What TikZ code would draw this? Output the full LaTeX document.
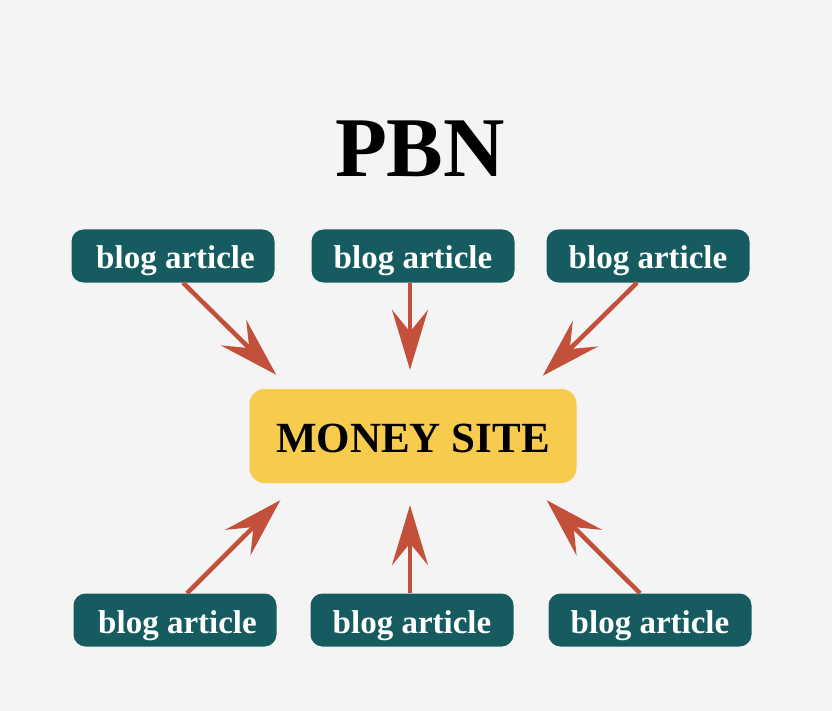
\documentclass[tikz,border=0pt]{standalone}
\usepackage{fontspec}
\setmainfont{Liberation Serif}
\usetikzlibrary{arrows.meta}
\definecolor{bgcol}{HTML}{F4F4F4}
\definecolor{tealbox}{HTML}{155B5F}
\definecolor{goldbox}{HTML}{F7CB4D}
\definecolor{arrowcol}{HTML}{C2503A}
\begin{document}
\begin{tikzpicture}[x=1pt,y=-1pt,
		blog/.style={fill=tealbox,rounded corners=12pt,minimum width=203pt,minimum height=53pt,inner sep=0pt,text height=26pt,text depth=0pt,text=white,font=\fontsize{33}{36}\selectfont\bfseries},
		money/.style={fill=goldbox,rounded corners=15pt,minimum width=327pt,minimum height=94pt,inner sep=0pt,text height=32pt,text depth=0pt,font=\fontsize{43}{46}\selectfont\bfseries},
		link/.style={draw=arrowcol,line width=4.5pt,-{Stealth[length=60pt,width=36pt,inset=22pt,color=arrowcol]}}]
		\fill[bgcol] (0,0) rectangle (832,711);
		\node[font=\fontsize{85}{90}\selectfont\bfseries] (title) at (420,149) {PBN};
		\node[money] (ms) at (413,436) {MONEY SITE};
		\node[blog] (tl) at (173,256) {\hspace*{5pt}blog article};
		\node[blog] (tm) at (413,256) {blog article};
		\node[blog] (tr) at (648,256) {blog article};
		\node[blog] (bl) at (175,620) {\hspace*{5pt}blog article};
		\node[blog] (bm) at (412,620) {blog article};
		\node[blog] (br) at (650,620) {blog article};
		\draw[link] ([xshift=10pt]tl.south)--([xshift=27pt,yshift=14pt]ms.north west);
		\draw[link] ([xshift=-3pt]tm.south)--([xshift=-3pt,yshift=19pt]ms.north);
		\draw[link] ([xshift=-11pt]tr.south)--([xshift=-34pt,yshift=13pt]ms.north east);
		\draw[link] ([xshift=12pt]bl.north)--([xshift=31pt,yshift=-17pt]ms.south west);
		\draw[link] ([xshift=-2pt]bm.north)--([xshift=-3pt,yshift=-22pt]ms.south);
		\draw[link] ([xshift=-10pt]br.north)--([xshift=-30pt,yshift=-17pt]ms.south east);
	\end{tikzpicture}
\end{document}
